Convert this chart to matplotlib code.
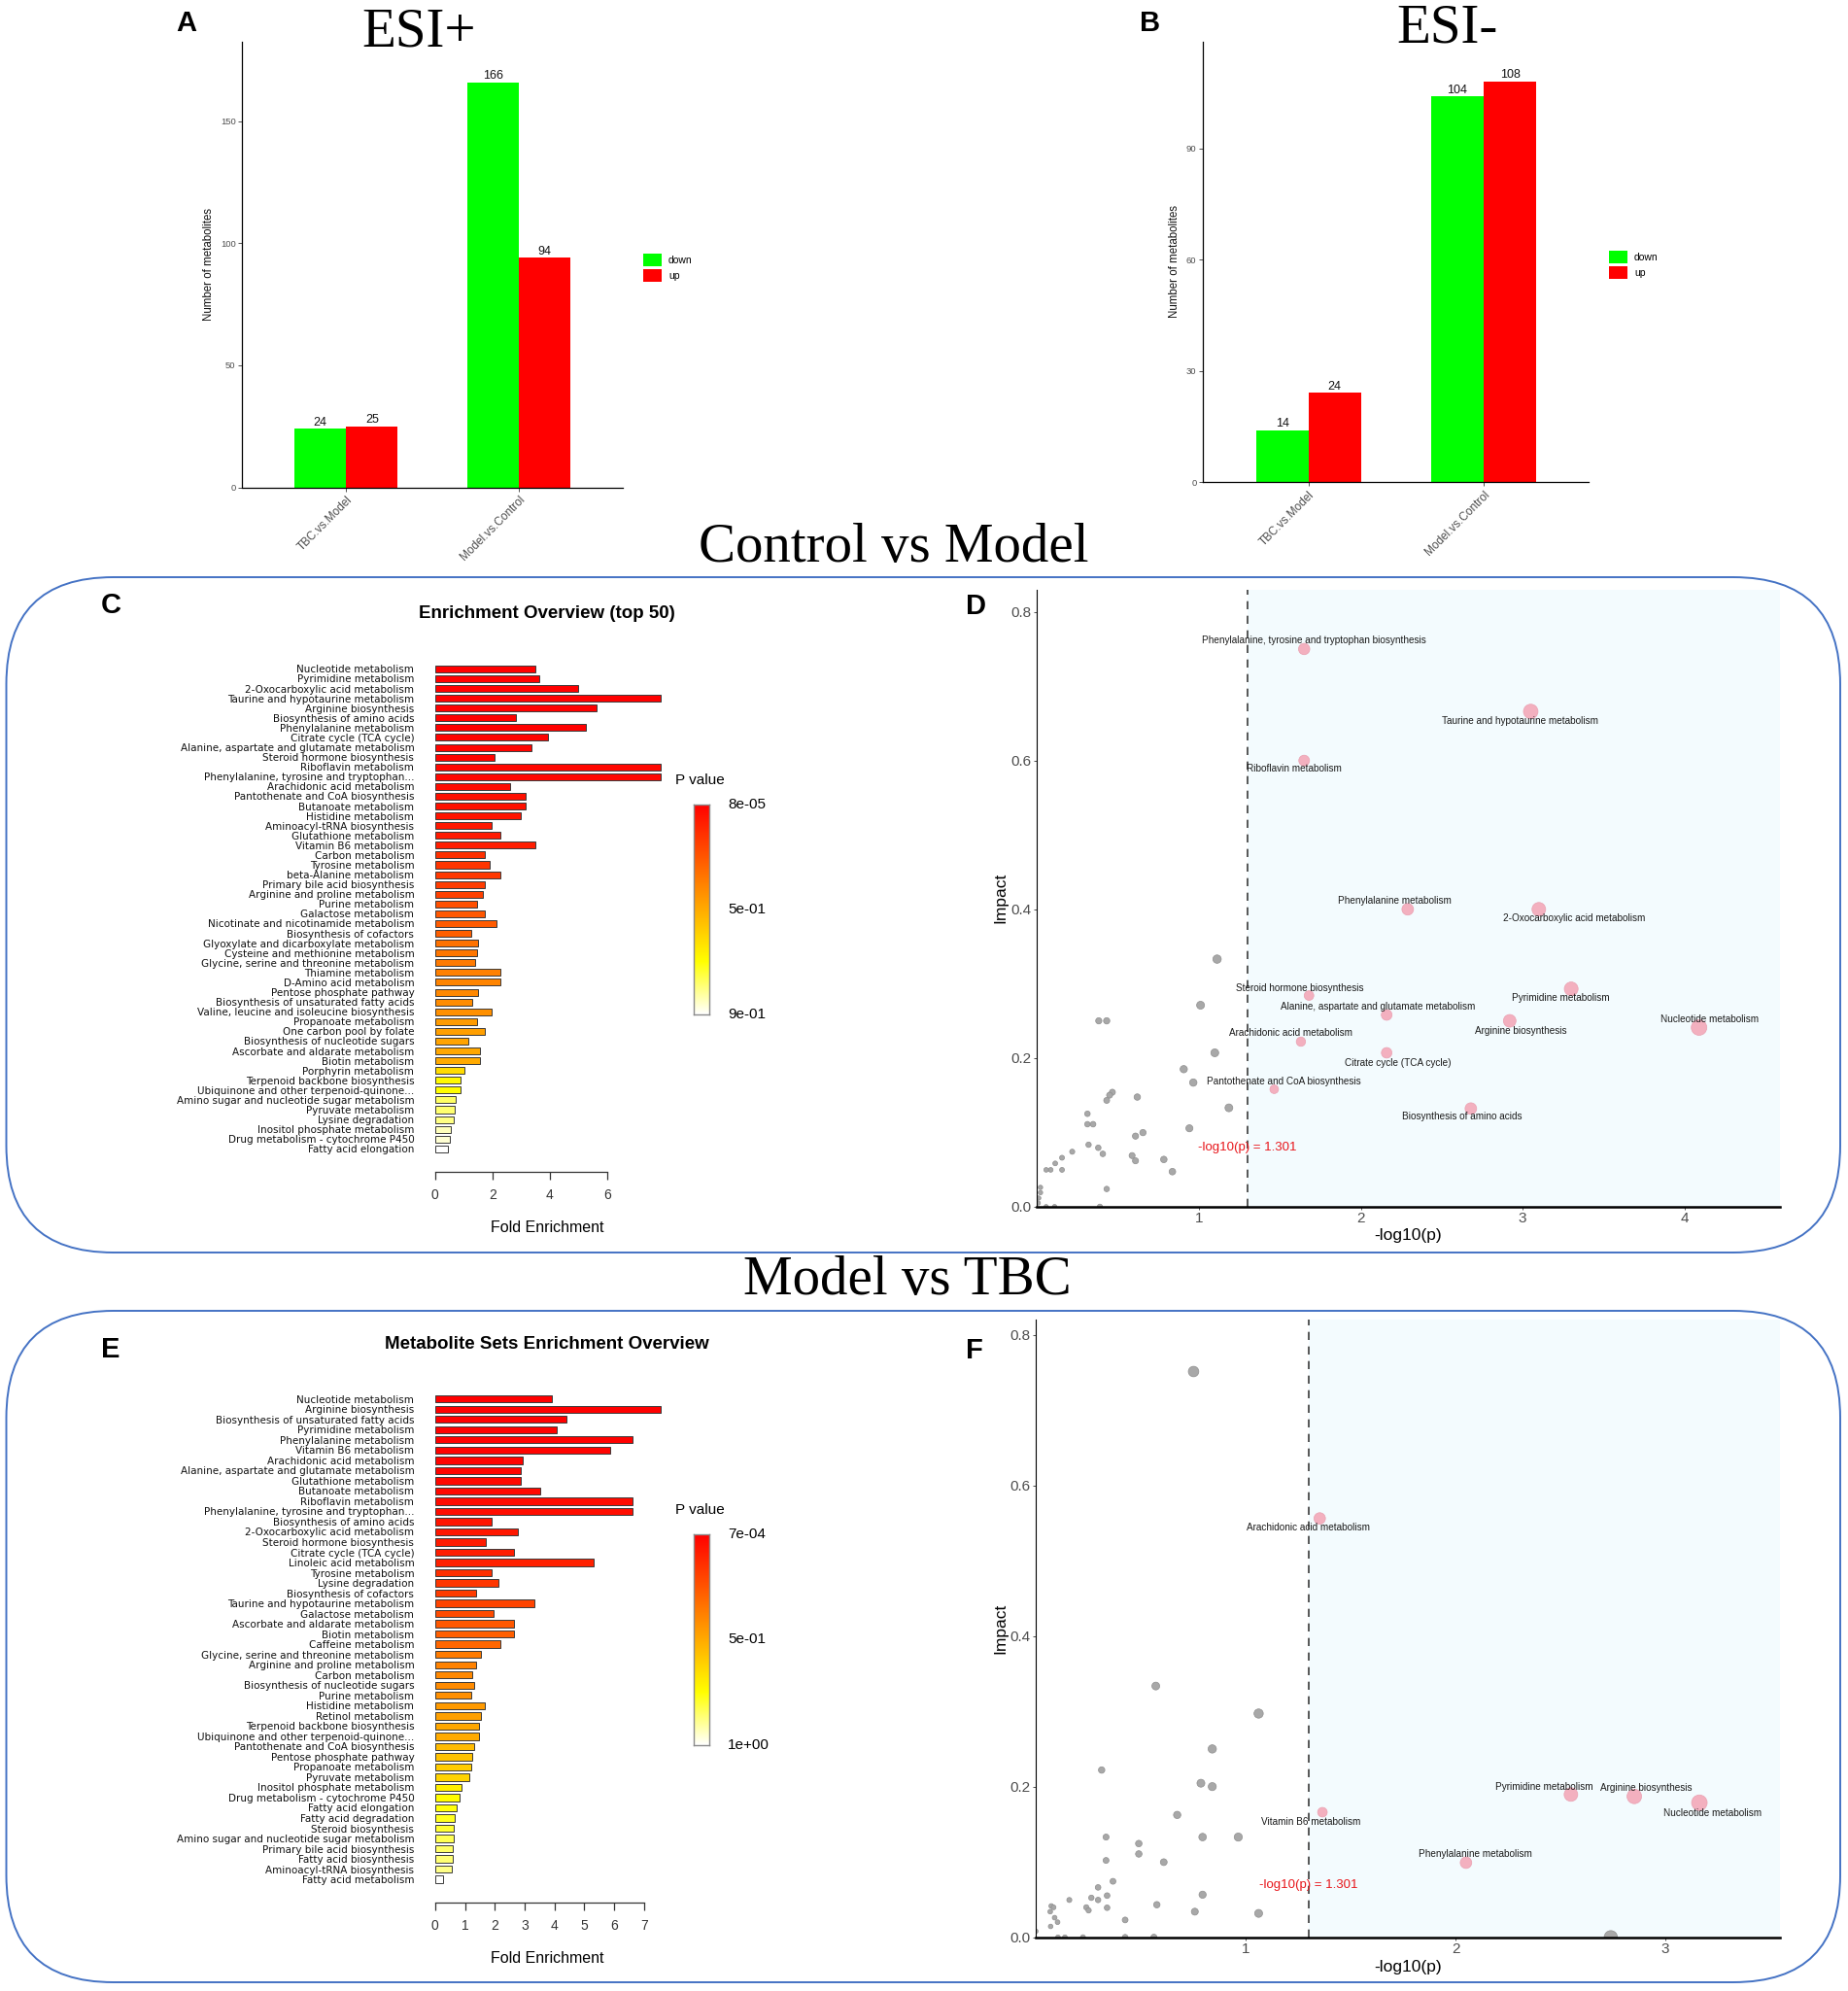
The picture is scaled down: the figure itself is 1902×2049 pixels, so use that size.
import matplotlib
matplotlib.use('Agg')
import matplotlib.pyplot as plt
import numpy as np
from matplotlib.colors import LinearSegmentedColormap
from matplotlib.patches import FancyBboxPatch

W, H = 1902, 2049
plt.rcParams['font.family'] = ['Liberation Sans', 'DejaVu Sans']
SERIF = ['Liberation Serif', 'DejaVu Serif']
WIDE = ['DejaVu Sans']

# ---------------- data ----------------
comparisons = ['TBC.vs.Model', 'Model.vs.Control']
esi_pos_down = [24, 166]
esi_pos_up = [25, 94]
esi_neg_down = [14, 104]
esi_neg_up = [24, 108]

c_pathways = ["Nucleotide metabolism", "Pyrimidine metabolism", "2-Oxocarboxylic acid metabolism",
              "Taurine and hypotaurine metabolism", "Arginine biosynthesis", "Biosynthesis of amino acids",
              "Phenylalanine metabolism", "Citrate cycle (TCA cycle)",
              "Alanine, aspartate and glutamate metabolism", "Steroid hormone biosynthesis",
              "Riboflavin metabolism", "Phenylalanine, tyrosine and tryptophan...",
              "Arachidonic acid metabolism", "Pantothenate and CoA biosynthesis", "Butanoate metabolism",
              "Histidine metabolism", "Aminoacyl-tRNA biosynthesis", "Glutathione metabolism",
              "Vitamin B6 metabolism", "Carbon metabolism", "Tyrosine metabolism", "beta-Alanine metabolism",
              "Primary bile acid biosynthesis", "Arginine and proline metabolism", "Purine metabolism",
              "Galactose metabolism", "Nicotinate and nicotinamide metabolism", "Biosynthesis of cofactors",
              "Glyoxylate and dicarboxylate metabolism", "Cysteine and methionine metabolism",
              "Glycine, serine and threonine metabolism", "Thiamine metabolism", "D-Amino acid metabolism",
              "Pentose phosphate pathway", "Biosynthesis of unsaturated fatty acids",
              "Valine, leucine and isoleucine biosynthesis", "Propanoate metabolism",
              "One carbon pool by folate", "Biosynthesis of nucleotide sugars",
              "Ascorbate and aldarate metabolism", "Biotin metabolism", "Porphyrin metabolism",
              "Terpenoid backbone biosynthesis", "Ubiquinone and other terpenoid-quinone...",
              "Amino sugar and nucleotide sugar metabolism", "Pyruvate metabolism", "Lysine degradation",
              "Inositol phosphate metabolism", "Drug metabolism - cytochrome P450", "Fatty acid elongation"]
c_fold = [3.50, 3.63, 4.97, 7.87, 5.61, 2.83, 5.25, 3.93, 3.36, 2.06, 7.87, 7.87, 2.62, 3.16, 3.16,
          2.97, 1.98, 2.26, 3.50, 1.72, 1.89, 2.26, 1.72, 1.67, 1.45, 1.74, 2.13, 1.27, 1.49, 1.45,
          1.41, 2.26, 2.26, 1.50, 1.30, 1.98, 1.45, 1.74, 1.17, 1.58, 1.58, 1.03, 0.88, 0.88, 0.73,
          0.70, 0.64, 0.55, 0.50, 0.44]
c_pval = [0.00008, 0.0005, 0.001, 0.002, 0.003, 0.005, 0.007, 0.009, 0.011, 0.014, 0.018, 0.02,
          0.03, 0.04, 0.045, 0.05, 0.06, 0.07, 0.08, 0.13, 0.14, 0.15, 0.16, 0.17, 0.21, 0.23, 0.24,
          0.25, 0.30, 0.31, 0.32, 0.34, 0.35, 0.36, 0.37, 0.38, 0.41, 0.42, 0.43, 0.44, 0.45, 0.58,
          0.66, 0.67, 0.76, 0.77, 0.79, 0.84, 0.86, 0.90]

e_pathways = ["Nucleotide metabolism", "Arginine biosynthesis", "Biosynthesis of unsaturated fatty acids",
              "Pyrimidine metabolism", "Phenylalanine metabolism", "Vitamin B6 metabolism",
              "Arachidonic acid metabolism", "Alanine, aspartate and glutamate metabolism",
              "Glutathione metabolism", "Butanoate metabolism", "Riboflavin metabolism",
              "Phenylalanine, tyrosine and tryptophan...", "Biosynthesis of amino acids",
              "2-Oxocarboxylic acid metabolism", "Steroid hormone biosynthesis", "Citrate cycle (TCA cycle)",
              "Linoleic acid metabolism", "Tyrosine metabolism", "Lysine degradation",
              "Biosynthesis of cofactors", "Taurine and hypotaurine metabolism", "Galactose metabolism",
              "Ascorbate and aldarate metabolism", "Biotin metabolism", "Caffeine metabolism",
              "Glycine, serine and threonine metabolism", "Arginine and proline metabolism",
              "Carbon metabolism", "Biosynthesis of nucleotide sugars", "Purine metabolism",
              "Histidine metabolism", "Retinol metabolism", "Terpenoid backbone biosynthesis",
              "Ubiquinone and other terpenoid-quinone...", "Pantothenate and CoA biosynthesis",
              "Pentose phosphate pathway", "Propanoate metabolism", "Pyruvate metabolism",
              "Inositol phosphate metabolism", "Drug metabolism - cytochrome P450", "Fatty acid elongation",
              "Fatty acid degradation", "Steroid biosynthesis", "Amino sugar and nucleotide sugar metabolism",
              "Primary bile acid biosynthesis", "Fatty acid biosynthesis", "Aminoacyl-tRNA biosynthesis",
              "Fatty acid metabolism"]
e_fold = [3.92, 7.57, 4.41, 4.07, 6.61, 5.87, 2.93, 2.86, 2.86, 3.53, 6.61, 6.61, 1.89, 2.79, 1.71,
          2.66, 5.31, 1.89, 2.12, 1.36, 3.32, 1.96, 2.66, 2.66, 2.20, 1.53, 1.39, 1.23, 1.32, 1.22,
          1.66, 1.53, 1.48, 1.48, 1.32, 1.25, 1.22, 1.16, 0.90, 0.81, 0.71, 0.67, 0.63, 0.62, 0.58,
          0.58, 0.55, 0.28]
e_pval = [0.0007, 0.002, 0.004, 0.006, 0.008, 0.01, 0.015, 0.02, 0.025, 0.03, 0.035, 0.04, 0.06,
          0.07, 0.08, 0.09, 0.10, 0.14, 0.16, 0.18, 0.20, 0.22, 0.26, 0.28, 0.30, 0.36, 0.38, 0.40,
          0.41, 0.42, 0.45, 0.47, 0.49, 0.50, 0.55, 0.57, 0.60, 0.62, 0.70, 0.74, 0.76, 0.78, 0.80,
          0.83, 0.85, 0.86, 0.88, 1.00]

# Panel D (Control vs Model pathway analysis)
d_sig_names = ["Phenylalanine, tyrosine and tryptophan biosynthesis", "Taurine and hypotaurine metabolism",
               "Riboflavin metabolism", "Phenylalanine metabolism", "2-Oxocarboxylic acid metabolism",
               "Steroid hormone biosynthesis", "Pyrimidine metabolism",
               "Alanine, aspartate and glutamate metabolism", "Arginine biosynthesis",
               "Nucleotide metabolism", "Arachidonic acid metabolism", "Citrate cycle (TCA cycle)",
               "Pantothenate and CoA biosynthesis", "Biosynthesis of amino acids"]
d_sig_logp = [1.65, 3.05, 1.65, 2.29, 3.10, 1.68, 3.30, 2.16, 2.92, 4.09, 1.63, 2.16, 1.465, 2.68]
d_sig_impact = [0.750, 0.666, 0.600, 0.400, 0.400, 0.284, 0.293, 0.258, 0.250, 0.241, 0.222, 0.207, 0.158, 0.132]
d_other_logp = [1.112, 1.01, 0.381, 0.430, 1.098, 0.906, 0.965, 0.465, 0.448, 0.430, 0.619, 1.185,
                0.311, 0.311, 0.346, 0.941, 0.654, 0.608, 0.318, 0.378, 0.406, 0.217, 0.587, 0.608,
                0.783, 0.154, 0.112, 0.084, 0.056, 0.154, 0.836, 0.430, 0.021, 0.021, 0.010, 0.388,
                0.056, 0.108, 0.007]
d_other_impact = [0.333, 0.271, 0.250, 0.250, 0.207, 0.185, 0.167, 0.154, 0.150, 0.143, 0.1475, 0.133,
                  0.125, 0.111, 0.111, 0.1055, 0.0997, 0.095, 0.0834, 0.0793, 0.0711, 0.074, 0.0688,
                  0.0618, 0.0636, 0.0659, 0.0583, 0.0496, 0.0496, 0.0496, 0.0472, 0.0239, 0.026, 0.019,
                  0.0117, 0.0, 0.0, 0.0, 0.005]

# Panel F (Model vs TBC pathway analysis)
f_sig_names = ["Arachidonic acid metabolism", "Vitamin B6 metabolism", "Pyrimidine metabolism",
               "Arginine biosynthesis", "Nucleotide metabolism", "Phenylalanine metabolism"]
f_sig_logp = [1.353, 1.366, 2.55, 2.852, 3.162, 2.05]
f_sig_impact = [0.556, 0.166, 0.1895, 0.187, 0.1786, 0.099]
f_other_logp = [0.752, 0.572, 1.062, 0.841, 0.314, 0.787, 0.841, 0.674, 0.335, 0.795, 0.965, 0.491,
                0.491, 0.335, 0.610, 0.368, 0.297, 0.340, 0.795, 0.160, 0.265, 0.297, 0.074, 0.085,
                0.069, 0.241, 0.252, 0.340, 0.577, 0.758, 1.062, 0.090, 0.104, 0.071, 0.426, 0.001,
                0.106, 0.139, 0.225, 0.426, 0.563, 2.74]
f_other_impact = [0.751, 0.3335, 0.297, 0.250, 0.222, 0.2045, 0.200, 0.1624, 0.133, 0.133, 0.133,
                  0.1244, 0.1106, 0.102, 0.0997, 0.0743, 0.0662, 0.0553, 0.0565, 0.0495, 0.0524,
                  0.0495, 0.0415, 0.0397, 0.034, 0.0397, 0.0357, 0.0392, 0.0432, 0.034, 0.0317,
                  0.026, 0.020, 0.0144, 0.023, 0.008, 0.0, 0.0, 0.0, 0.0, 0.0, 0.0]
threshold = 1.301

# label offsets (points) for pathway labels
d_label_offsets = {
    "Phenylalanine, tyrosine and tryptophan biosynthesis": (7.5, 6.3),
    "Taurine and hypotaurine metabolism": (-7.9, -7.1),
    "Riboflavin metabolism": (-7.1, -6.1),
    "Phenylalanine metabolism": (-10, 6.1),
    "2-Oxocarboxylic acid metabolism": (26, -6.4),
    "Steroid hormone biosynthesis": (-7, 5.5),
    "Pyrimidine metabolism": (-7.5, -6.7),
    "Alanine, aspartate and glutamate metabolism": (-6.3, 5.8),
    "Arginine biosynthesis": (8.4, -7.4),
    "Nucleotide metabolism": (7.5, 6.1),
    "Arachidonic acid metabolism": (-7.5, 6.7),
    "Citrate cycle (TCA cycle)": (8.4, -7.7),
    "Pantothenate and CoA biosynthesis": (7.1, 5.5),
    "Biosynthesis of amino acids": (-6.7, -6.1),
}
f_label_offsets = {
    "Arachidonic acid metabolism": (-8.4, -6.4),
    "Vitamin B6 metabolism": (-8.4, -7.1),
    "Pyrimidine metabolism": (-20, 5.5),
    "Arginine biosynthesis": (8.4, 6.1),
    "Nucleotide metabolism": (9.6, -7.4),
    "Phenylalanine metabolism": (6.7, 6.4),
}

# ---------------- helpers ----------------
fig = plt.figure(figsize=(W / 100, H / 100), dpi=100)
fig.patch.set_facecolor('white')


def ax_px(l, t, r, b, **kw):
    return fig.add_axes([l / W, 1 - b / H, (r - l) / W, (b - t) / H], **kw)


def ftext(x, y, s, **kw):
    return fig.text(x / W, 1 - y / H, s, **kw)


heat = LinearSegmentedColormap.from_list(
    'heatw', [(0.0, '#FF0000'), (0.375, '#FF8000'), (0.75, '#FFFF00'), (1.0, '#FFFFFF')])


# ---------------- panels A & B ----------------
def bar_panel(rect, down, up, ticks, title, title_xy, letter, letter_xy, ylab_x, leg_xy):
    ax = ax_px(*rect)
    x = np.arange(1, len(comparisons) + 1)
    w = 0.3
    b1 = ax.bar(x - w / 2, down, w, color='#00FF00', label='down', linewidth=0)
    b2 = ax.bar(x + w / 2, up, w, color='#FF0000', label='up', linewidth=0)
    for bars, vals in ((b1, down), (b2, up)):
        for bb, v in zip(bars, vals):
            ax.annotate(str(v), (bb.get_x() + bb.get_width() / 2, v), xytext=(0, 0.5),
                        textcoords='offset points', ha='center', va='bottom', fontsize=9, color='#111111')
    ax.set_xlim(0.4, 2.6)
    ax.set_ylim(0, max(max(down), max(up)) * 1.1)
    ax.set_yticks(ticks)
    ax.set_yticklabels([str(t) for t in ticks], fontsize=6.8, color='#4D4D4D')
    ax.set_xticks(x)
    ax.set_xticklabels(comparisons, rotation=45, ha='right', rotation_mode='anchor',
                       fontsize=8.5, color='#4D4D4D')
    ax.tick_params(axis='both', length=3, width=0.6, pad=2, colors='#333333')
    for lab in ax.get_xticklabels() + ax.get_yticklabels():
        lab.set_color('#4D4D4D')
    for s in ('top', 'right'):
        ax.spines[s].set_visible(False)
    for s in ('left', 'bottom'):
        ax.spines[s].set_linewidth(0.9)
    ax.legend(loc='center left', bbox_to_anchor=(leg_xy[0] / W, 1 - leg_xy[1] / H),
              bbox_transform=fig.transFigure, frameon=False, fontsize=7.5, handlelength=1.8,
              handleheight=1.6, labelspacing=0.2, borderpad=0, borderaxespad=0, handletextpad=0.7)
    ftext(title_xy[0], title_xy[1], title, family=SERIF, fontsize=41, ha='center', va='center')
    ftext(letter_xy[0], letter_xy[1], letter, fontsize=21, fontweight='bold', ha='center', va='center')
    ftext(ylab_x, (rect[1] + rect[3]) / 2 + 0, 'Number of metabolites', fontsize=8.3, rotation=90,
          ha='center', va='center', color='#111111')
    return ax


bar_panel((249.5, 42.9, 640.6, 501.6), esi_pos_down, esi_pos_up, [0, 50, 100, 150], 'ESI+',
          (431, 33), 'A', (192, 24), 215, (662, 275.5))
bar_panel((1238.4, 42.9, 1635.3, 496), esi_neg_down, esi_neg_up, [0, 30, 60, 90], 'ESI-',
          (1489, 29), 'B', (1184, 24), 1209, (1656, 272.5))

ftext(920, 564, 'Control vs Model', family=SERIF, fontsize=41, ha='center', va='center')
ftext(934, 1318, 'Model vs TBC', family=SERIF, fontsize=41, ha='center', va='center')


# ---------------- panels C & E ----------------
def enrich_panel(names, fold, pvals, first_y, step, upp, axis_max, title, title_y, letter,
                 letter_y, cb_rect, pv_y, xlab_y):
    n = len(names)
    left = 447.8
    xmax = 8.0
    top = first_y - 0.6 * step
    bottom = first_y + (n - 1) * step + 0.6 * step
    ax = ax_px(left, top, left + xmax * upp, bottom)
    pmin, pmax = min(pvals), max(pvals)
    norm = [(p - pmin) / (pmax - pmin) for p in pvals]
    cols = [heat(v) for v in norm]
    y = np.arange(n)
    ax.barh(y, fold, height=0.7, color=cols, edgecolor='#3a3a3a', linewidth=0.7)
    ax.set_xlim(0, xmax)
    ax.set_ylim(n - 1 + 0.6, -0.6)
    ax.set_yticks(y)
    ax.set_yticklabels(names, fontsize=7.5, color='#111111', family=WIDE)
    ax.tick_params(axis='y', length=0, pad=15.5)
    ticks = list(range(0, axis_max + 1, 2 if axis_max == 6 else 1))
    ax.set_xticks(ticks)
    ax.set_xticklabels([str(t) for t in ticks], fontsize=11, color='#111111')
    ax.tick_params(axis='x', length=5.5, width=0.9, pad=7, colors='#333333')
    for lab in ax.get_xticklabels():
        lab.set_color('#111111')
    for s in ('top', 'right', 'left'):
        ax.spines[s].set_visible(False)
    ax.spines['bottom'].set_position(('outward', 12.6))
    ax.spines['bottom'].set_bounds(0, axis_max)
    ax.spines['bottom'].set_linewidth(0.9)
    ax.spines['bottom'].set_color('#333333')
    ax.patch.set_alpha(0)
    ftext(563, title_y, title, fontsize=13.5, fontweight='bold', ha='center', va='center')
    ftext(114, letter_y, letter, fontsize=21, fontweight='bold', ha='center', va='center')
    ftext(563, xlab_y, 'Fold Enrichment', fontsize=11.5, ha='center', va='center')
    # colorbar
    cax = ax_px(*cb_rect)
    grad = np.linspace(0, 1, 256)[:, None]
    cax.imshow(grad, cmap=heat, aspect='auto', extent=(0, 1, 0, 1), origin='upper')
    cax.set_xticks([])
    cax.set_yticks([])
    for s in cax.spines.values():
        s.set_color('#8a8a8a')
        s.set_linewidth(1.0)
    labs = [f"{pmin:.0e}", f"{(pmin + pmax) / 2:.0e}", f"{pmax:.0e}"]
    for yy, s in zip((1.0, 0.5, 0.0), labs):
        cax.text(2.2, yy, s, transform=cax.transAxes, fontsize=11, ha='left', va='center')
    ftext(695, pv_y, 'P value', fontsize=11, ha='left', va='center')


enrich_panel(c_pathways, c_fold, c_pval, 688.4, 10.08, 29.55, 6, 'Enrichment Overview (top 50)',
             632, 'C', 623, (714, 827.7, 730, 1044), 803, 1263.8)
enrich_panel(e_pathways, e_fold, e_pval, 1439.7, 10.52, 30.7, 7, 'Metabolite Sets Enrichment Overview',
             1383.5, 'E', 1389, (714, 1578.6, 730, 1795.5), 1554.4, 2015.6)


# ---------------- panels D & F ----------------
def scatter_panel(rect, xlim, ylim, sig_names, sig_x, sig_y, oth_x, oth_y, offsets, xticks,
                  red_y, letter, letter_xy, imp_xy, xlab_xy):
    ax = ax_px(*rect)
    ax.set_xlim(*xlim)
    ax.set_ylim(*ylim)
    ax.axvspan(threshold, xlim[1], color='#F3FBFE', zorder=0, linewidth=0)
    ax.axvline(threshold, color='#3a3a3a', linestyle=(0, (5, 4)), linewidth=1.2, zorder=1)
    vals = [a + 1.5 * b for a, b in zip(list(sig_x) + list(oth_x), list(sig_y) + list(oth_y))]
    vmax = max(vals)

    def sizes(xs, ys):
        out = []
        for a, b in zip(xs, ys):
            r_px = 2.2 + 5.8 * (a + 1.5 * b) / vmax
            d_pt = 2 * r_px / 1.389
            out.append(d_pt ** 2)
        return out

    ax.scatter(oth_x, oth_y, s=sizes(oth_x, oth_y), c='#A8A8A8', edgecolors='#8E8E8E',
               linewidths=0.5, zorder=3)
    ax.scatter(sig_x, sig_y, s=sizes(sig_x, sig_y), c='#F3B0BF', edgecolors='#E9A0B1',
               linewidths=0.5, zorder=4)
    for nm, a, b in zip(sig_names, sig_x, sig_y):
        dx, dy = offsets[nm]
        ax.annotate(nm, (a, b), xytext=(dx, dy), textcoords='offset points', ha='center',
                    va='center', fontsize=7.2, color='#1a1a1a', zorder=5)
    ax.text(threshold, red_y, '-log10(p) = 1.301', color='#E8161B', ha='center', va='center',
            fontsize=9.5, zorder=5)
    ax.set_xticks(xticks)
    ax.set_xticklabels([str(t) for t in xticks], fontsize=11, color='#4D4D4D')
    yt = [0.0, 0.2, 0.4, 0.6, 0.8]
    ax.set_yticks(yt)
    ax.set_yticklabels([f"{t:.1f}" for t in yt], fontsize=11, color='#4D4D4D')
    ax.tick_params(axis='both', length=2.5, width=0.6, colors='#333333', pad=1.5)
    for lab in ax.get_xticklabels() + ax.get_yticklabels():
        lab.set_color('#4D4D4D')
    for s in ('top', 'right'):
        ax.spines[s].set_visible(False)
    ax.spines['left'].set_linewidth(0.8)
    ax.spines['bottom'].set_linewidth(1.8)
    for s in ax.spines.values():
        s.set_zorder(6)
    ax.patch.set_alpha(0)
    ftext(letter_xy[0], letter_xy[1], letter, fontsize=21, fontweight='bold', ha='center', va='center')
    ftext(imp_xy[0], imp_xy[1], 'Impact', fontsize=12.5, rotation=90, ha='center', va='center')
    ftext(xlab_xy[0], xlab_xy[1], '-log10(p)', fontsize=12.5, ha='center', va='center')
    return ax


scatter_panel((1067.4, 606.7, 1832, 1241.9), (0, 4.59), (0, 0.83), d_sig_names, d_sig_logp,
              d_sig_impact, d_other_logp, d_other_impact, d_label_offsets, [1, 2, 3, 4], 0.079,
              'D', (1004.5, 624.5), (1029.5, 923.6), (1449.5, 1271.8))
scatter_panel((1066, 1358, 1832, 1993.7), (0, 3.546), (0, 0.82), f_sig_names, f_sig_logp,
              f_sig_impact, f_other_logp, f_other_impact, f_label_offsets, [1, 2, 3], 0.069,
              'F', (1003, 1390), (1029.5, 1676), (1449.5, 2024))

# ---------------- rounded frames ----------------
ov = fig.add_axes([0, 0, 1, 1], zorder=20)
ov.set_xlim(0, W)
ov.set_ylim(H, 0)
ov.axis('off')
ov.patch.set_alpha(0)
for (t, b) in ((594, 1289), (1349, 2040)):
    ov.add_patch(FancyBboxPatch((6.5, t), 1894 - 6.5, b - t,
                                boxstyle='round,pad=0,rounding_size=110', fill=False,
                                edgecolor='#4472C4', linewidth=1.4))

fig.savefig('out.png', dpi=100, facecolor='white')
